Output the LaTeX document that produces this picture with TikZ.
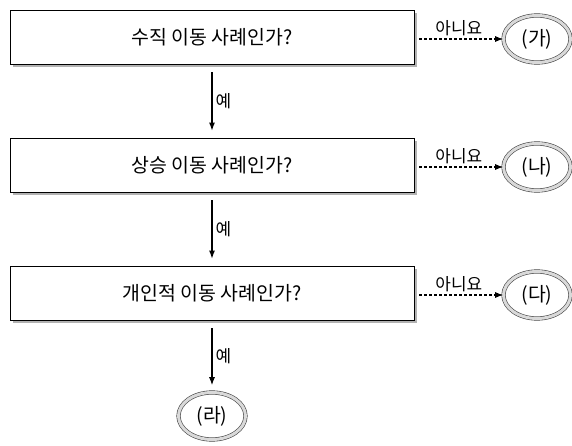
\documentclass[tikz,border=0pt]{standalone}
\usepackage{fontspec}
\setmainfont{Noto Sans CJK KR}
\usetikzlibrary{arrows.meta,shapes.geometric,shadows}

\tikzset{
	qbox/.style={draw, line width=0.8bp, fill=white, minimum width=404bp, minimum height=54bp,
		font=\fontsize{19.5}{22}\selectfont,
		drop shadow={shadow xshift=3bp, shadow yshift=-3bp, fill=gray!60, opacity=1}},
	endoval/.style={ellipse, draw=gray!55!black, double=gray!30, double distance=3bp,
		line width=0.6bp, fill=white, minimum width=67bp, minimum height=47bp, inner sep=0pt,
		font=\fontsize{19.5}{22}\selectfont},
	yesarrow/.style={-{Latex[length=8bp,width=6bp]}, line width=1.1bp, shorten <=8bp, shorten >=7bp},
	noarrow/.style={-{Latex[length=8bp,width=6bp]}, dash pattern=on 3bp off 2bp, line width=1.1bp, shorten <=5bp},
	lbl/.style={font=\fontsize{17}{19}\selectfont, inner sep=3bp}
}

\begin{document}
\begin{tikzpicture}[x=1bp, y=-1bp]
						\useasboundingbox (0, 0) rectangle (572, 446);
						\node[qbox] (vert) at (212, 37) {수직 이동 사례인가?};
						\node[qbox] (up) at (212, 165) {상승 이동 사례인가?};
						\node[qbox] (indiv) at (212, 293) {개인적 이동 사례인가?};
						\node[endoval] (ga) at (537, 39) {(가)};
						\node[endoval] (na) at (537, 167) {(나)};
						\node[endoval] (da) at (537, 295) {(다)};
						\node[endoval] (ra) at (212, 416) {(라)};
						\draw[yesarrow] (vert) -- node[lbl, right] {예} (up);
						\draw[yesarrow] (up) -- node[lbl, right] {예} (indiv);
						\draw[yesarrow] (indiv) -- node[lbl, right] {예} (ra);
						\draw[noarrow] (vert.east |- ga) -- node[lbl, above] {아니요} (ga);
						\draw[noarrow] (up.east |- na) -- node[lbl, above] {아니요} (na);
						\draw[noarrow] (indiv.east |- da) -- node[lbl, above] {아니요} (da);
					\end{tikzpicture}
\end{document}
